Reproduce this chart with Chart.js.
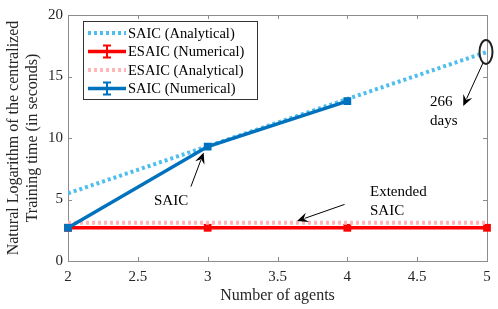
<!DOCTYPE html>
<html><head><meta charset="utf-8">
<script src="https://cdn.jsdelivr.net/npm/chart.js"></script>
<style>html,body{margin:0;padding:0;background:#fff}#w{width:498px;height:309px}</style>
</head><body><div id="w"><canvas id="c" width="498" height="309"></canvas></div>
<script>
const agents = [2, 3, 4, 5];
const saicAnalytical = [5.5, 9.33, 13.17, 17.0];
const esaicNumerical = [2.7, 2.7, 2.7, 2.7];
const esaicAnalytical = [3.1, 3.1, 3.1, 3.1];
const saicNumerical = [2.7, 9.3, 13.0, null];
const xTicks = [2, 2.5, 3, 3.5, 4, 4.5, 5];
const yTicks = [0, 5, 10, 15, 20];
const legendLabels = ['SAIC (Analytical)', 'ESAIC (Numerical)', 'ESAIC (Analytical)', 'SAIC (Numerical)'];

const FONT = '"Liberation Serif", "Times New Roman", serif';
const pts = arr => agents.map((x, i) => ({x, y: arr[i]})).filter(p => p.y !== null);

const styles = [
  {color: '#4DBEEE', width: 4, dash: [3, 3], marker: false},
  {color: '#FF0000', width: 3.5, dash: [], marker: true},
  {color: '#FFB6B6', width: 4, dash: [3, 3], marker: false},
  {color: '#0072BD', width: 3.5, dash: [], marker: true}
];

function arrow(ctx, x1, y1, x2, y2) {
  ctx.save();
  ctx.strokeStyle = '#000'; ctx.fillStyle = '#000'; ctx.lineWidth = 1;
  const a = Math.atan2(y2 - y1, x2 - x1);
  const L = 11, W = 5;
  const bx = x2 - L * Math.cos(a), by = y2 - L * Math.sin(a);
  ctx.beginPath(); ctx.moveTo(x1, y1); ctx.lineTo(bx + 3*Math.cos(a), by + 3*Math.sin(a)); ctx.stroke();
  ctx.beginPath();
  ctx.moveTo(x2, y2);
  ctx.lineTo(bx - W * Math.sin(a), by + W * Math.cos(a));
  ctx.lineTo(x2 - (L-4) * Math.cos(a), y2 - (L-4) * Math.sin(a));
  ctx.lineTo(bx + W * Math.sin(a), by - W * Math.cos(a));
  ctx.closePath(); ctx.fill();
  ctx.restore();
}

const framePlugin = {
  id: 'frame',
  beforeDatasetsDraw(chart) {
    const {ctx, chartArea: a, scales: {x, y}} = chart;
    ctx.save();
    ctx.strokeStyle = '#8c8c8c'; ctx.lineWidth = 1;
    ctx.strokeRect(a.left + 0.5, a.top + 0.5, a.right - a.left, a.bottom - a.top);
    ctx.beginPath();
    xTicks.forEach(t => { const px = Math.round(x.getPixelForValue(t)) + 0.5;
      ctx.moveTo(px, a.bottom); ctx.lineTo(px, a.bottom - 4); ctx.moveTo(px, a.top); ctx.lineTo(px, a.top + 4); });
    yTicks.forEach(t => { const py = Math.round(y.getPixelForValue(t)) + 0.5;
      ctx.moveTo(a.left, py); ctx.lineTo(a.left + 4, py); ctx.moveTo(a.right, py); ctx.lineTo(a.right - 4, py); });
    ctx.stroke();
    ctx.restore();
  },
  afterDatasetsDraw(chart) {
    const {ctx, scales: {x, y}} = chart;
    ctx.save();
    // annotations
    const ex = x.getPixelForValue(5), ey = y.getPixelForValue(17);
    ctx.strokeStyle = '#222'; ctx.lineWidth = 2;
    ctx.beginPath(); ctx.ellipse(ex - 1, ey, 6.5, 12, 0, 0, Math.PI * 2); ctx.stroke();
    arrow(ctx, ex - 4, ey + 11, x.getPixelForValue(4.83), y.getPixelForValue(12.6));
    const sx = x.getPixelForValue(3), sy = y.getPixelForValue(9.3);
    arrow(ctx, x.getPixelForValue(2.88), y.getPixelForValue(6.05), sx - 4, sy + 6);
    arrow(ctx, x.getPixelForValue(3.98), y.getPixelForValue(4.6), x.getPixelForValue(3.64), y.getPixelForValue(3.25));
    ctx.fillStyle = '#000'; ctx.font = '15px ' + FONT; ctx.textBaseline = 'middle'; ctx.textAlign = 'left';
    ctx.fillText('266', 430, 102);
    ctx.fillText('days', 430, 121);
    ctx.fillText('SAIC', 154, 201);
    ctx.fillText('Extended', 370, 192);
    ctx.fillText('SAIC', 370, 211);

    // legend
    const lx = 83, ly = 21, lw = 174, lh = 78;
    ctx.fillStyle = '#fff'; ctx.fillRect(lx, ly, lw, lh);
    ctx.strokeStyle = '#333'; ctx.lineWidth = 1; ctx.strokeRect(lx + 0.5, ly + 0.5, lw, lh);
    legendLabels.forEach((lab, i) => {
      const s = styles[i], yy = ly + 12 + i * 18.5;
      ctx.strokeStyle = s.color; ctx.lineWidth = s.width; ctx.setLineDash(s.dash);
      ctx.beginPath(); ctx.moveTo(88, yy); ctx.lineTo(126, yy); ctx.stroke();
      ctx.setLineDash([]);
      if (s.marker) {
        ctx.lineWidth = 2;
        ctx.beginPath(); ctx.moveTo(107, yy - 6); ctx.lineTo(107, yy + 6);
        ctx.moveTo(103, yy - 6); ctx.lineTo(111, yy - 6); ctx.moveTo(103, yy + 6); ctx.lineTo(111, yy + 6); ctx.stroke();
      }
      ctx.fillStyle = '#000'; ctx.font = '14.5px ' + FONT; ctx.textAlign = 'left';
      ctx.fillText(lab, 128, yy + 1);
    });
    ctx.restore();
  }
};

new Chart(document.getElementById('c'), {
  type: 'scatter',
  data: {
    datasets: [
      {label: legendLabels[0], order: 3, data: pts(saicAnalytical), showLine: true, borderColor: styles[0].color, borderWidth: 4, borderDash: [3, 3], pointRadius: 0},
      {label: legendLabels[1], order: 2, data: pts(esaicNumerical), showLine: true, clip: false, borderColor: styles[1].color, backgroundColor: styles[1].color, borderWidth: 3.5, pointStyle: 'rect', pointRadius: 5.5, pointBorderWidth: 0},
      {label: legendLabels[2], order: 1, data: pts(esaicAnalytical), showLine: true, borderColor: styles[2].color, borderWidth: 4, borderDash: [3, 3], pointRadius: 0},
      {label: legendLabels[3], order: 0, data: pts(saicNumerical), showLine: true, clip: false, borderColor: styles[3].color, backgroundColor: styles[3].color, borderWidth: 3.5, pointStyle: 'rect', pointRadius: 5.5, pointBorderWidth: 0}
    ]
  },
  options: {
    responsive: false, animation: false, devicePixelRatio: 1,
    layout: {padding: {top: 15, right: 11, left: 0, bottom: 0}},
    plugins: {legend: {display: false}, tooltip: {enabled: false}},
    scales: {
      x: {type: 'linear', min: 2, max: 5,
        afterBuildTicks: s => { s.ticks = xTicks.map(v => ({value: v})); },
        afterFit: s => { s.height = 48; },
        grid: {display: false, drawTicks: false}, border: {display: false},
        ticks: {padding: 7, color: '#262626', font: {family: FONT, size: 15}, maxRotation: 0, callback: v => String(v)},
        title: {display: true, text: 'Number of agents', color: '#262626', font: {family: FONT, size: 16}, padding: {top: 0}}
      },
      y: {type: 'linear', min: 0, max: 20,
        afterBuildTicks: s => { s.ticks = yTicks.map(v => ({value: v})); },
        afterFit: s => { s.width = 68; },
        grid: {display: false, drawTicks: false}, border: {display: false},
        ticks: {padding: 5, color: '#262626', font: {family: FONT, size: 15}, callback: v => String(v)},
        title: {display: true, text: ['Natural Logarithm of the centralized', 'Training time (in seconds)'], color: '#262626', font: {family: FONT, size: 16, lineHeight: 1.2}, padding: {bottom: 2}}
      }
    }
  },
  plugins: [framePlugin]
});
</script></body></html>
